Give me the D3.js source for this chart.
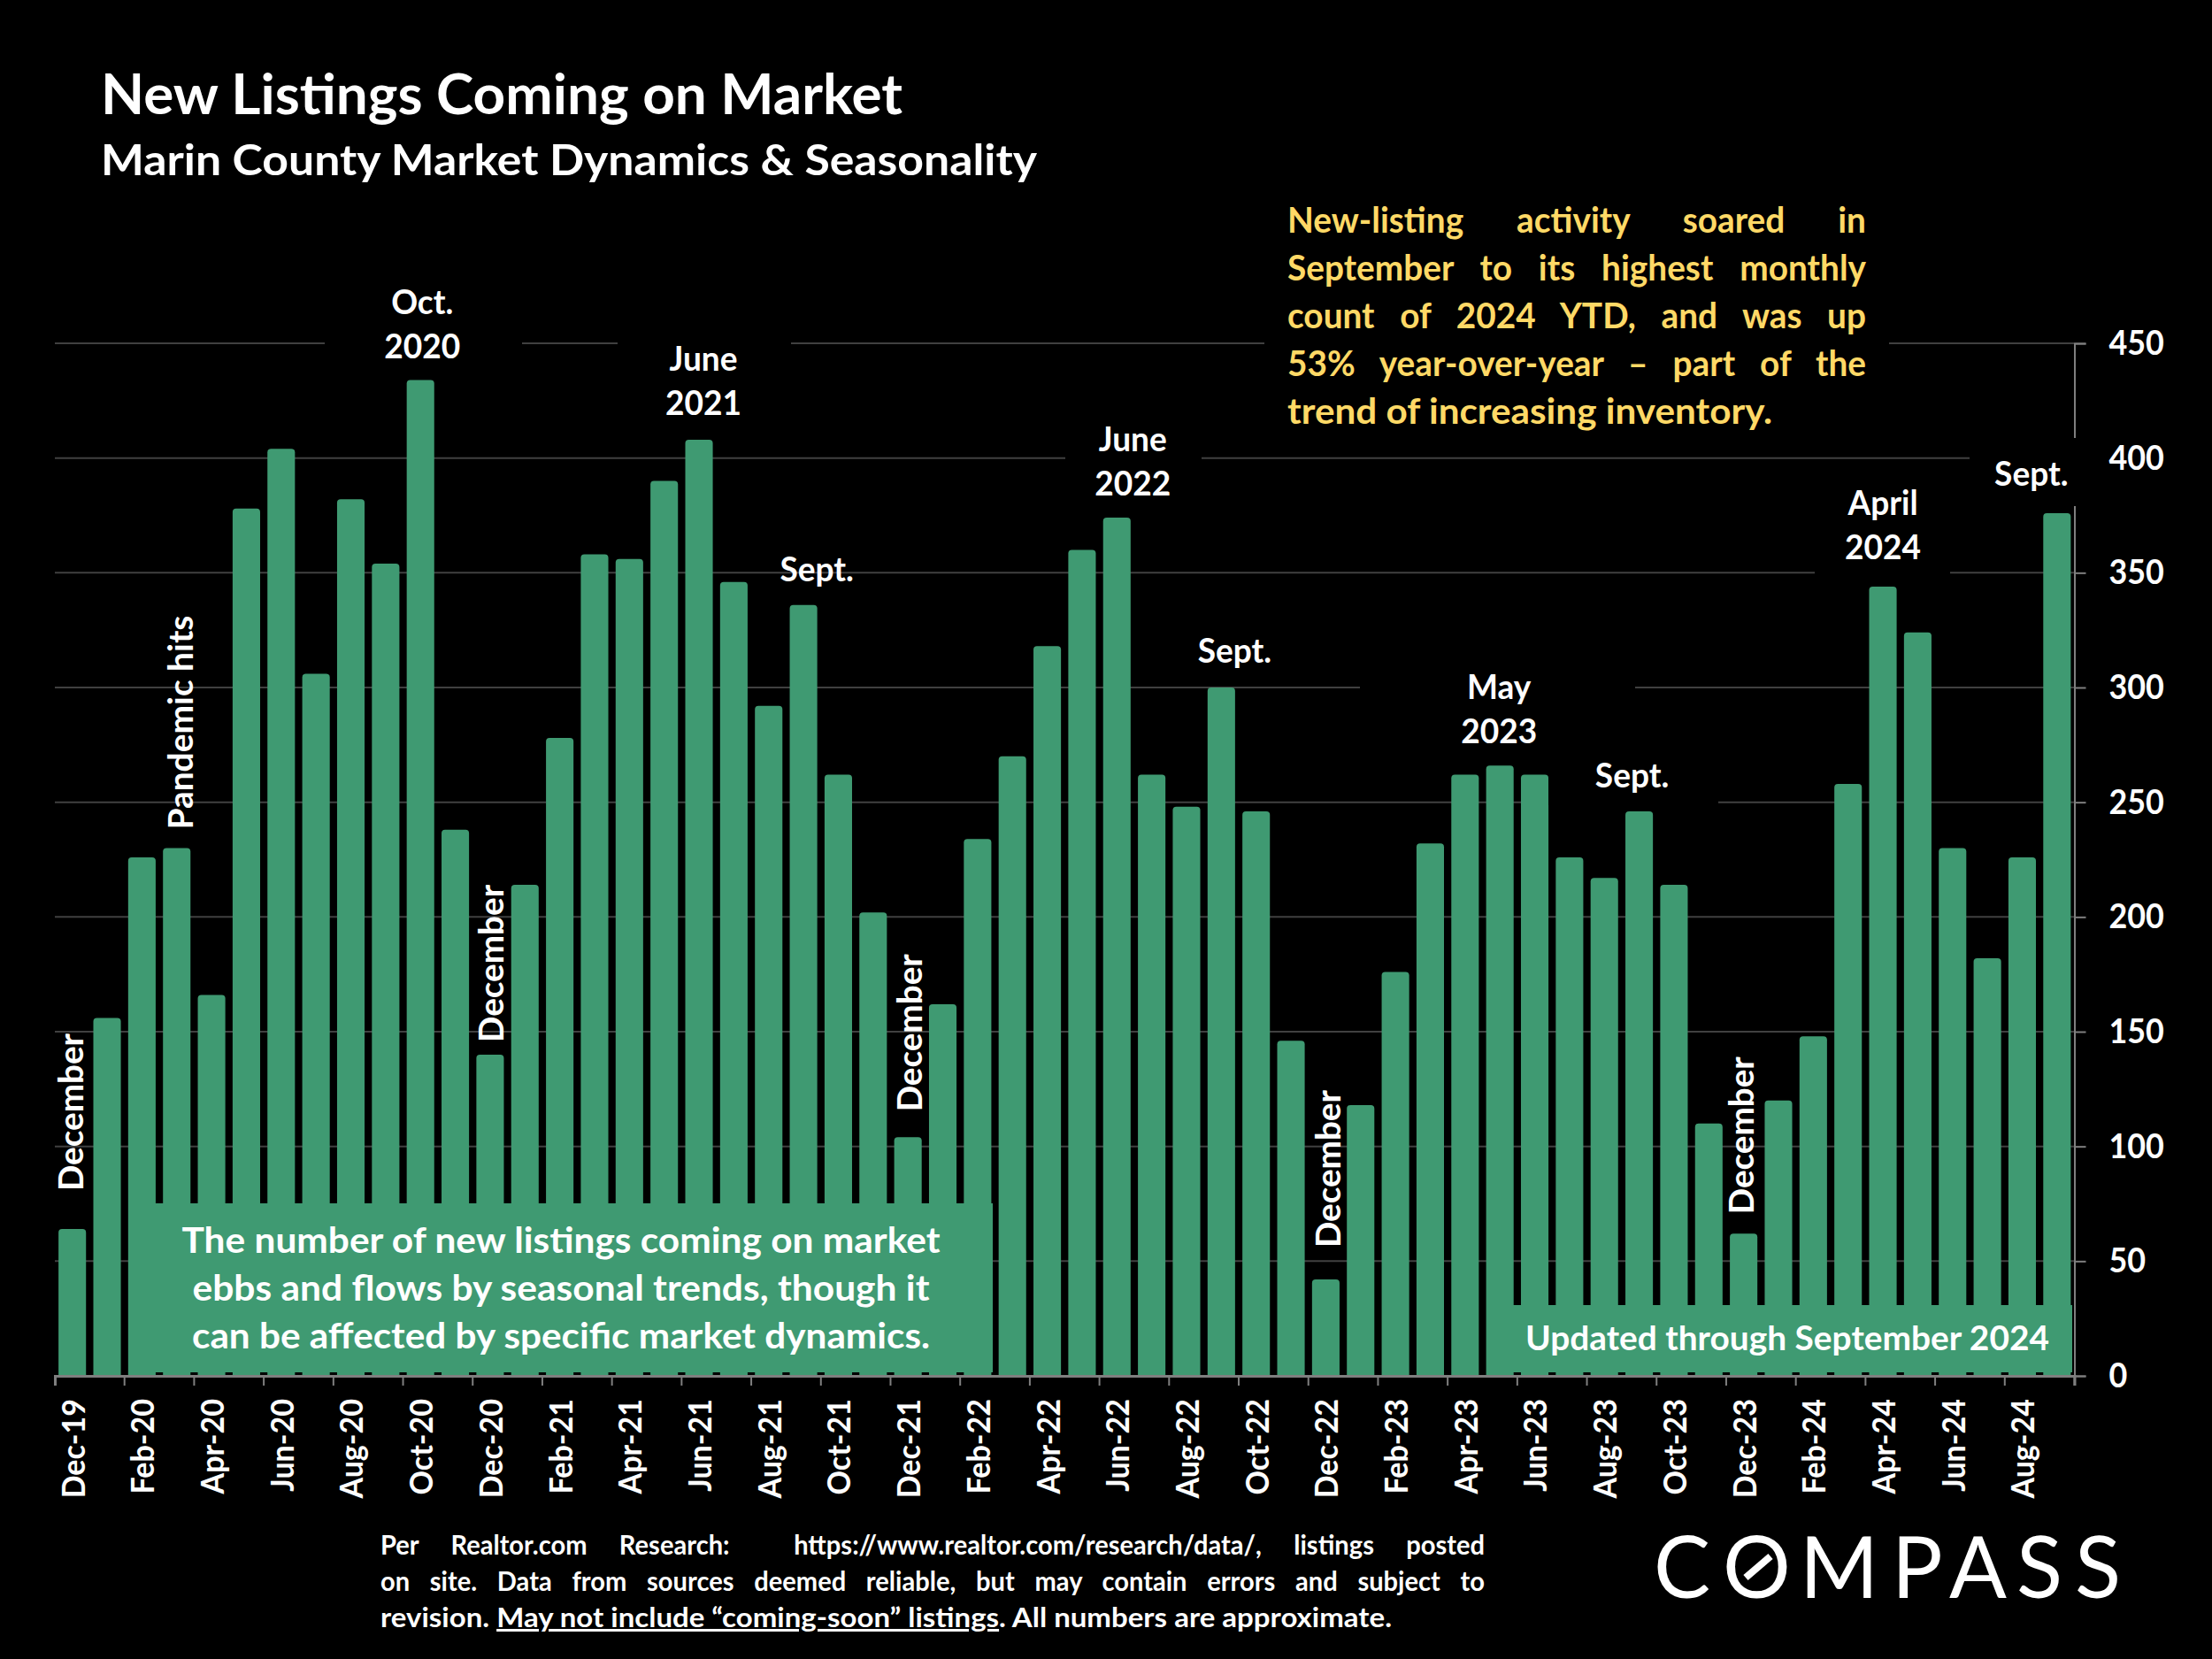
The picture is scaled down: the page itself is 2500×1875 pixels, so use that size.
<!DOCTYPE html>
<html>
<head>
<meta charset="utf-8">
<script src="https://cdn.jsdelivr.net/npm/d3@7"></script>
<style>
  html, body { margin: 0; background: #000; }
  svg { display: block; }
  text { font-family: Lato, sans-serif; font-weight: 700; fill: #fff; }
</style>
</head>
<body>
<div id="chart"></div>
<script>
const months = [
  "Dec-19",
  "Jan-20", "Feb-20", "Mar-20", "Apr-20", "May-20", "Jun-20", "Jul-20", "Aug-20", "Sep-20", "Oct-20", "Nov-20", "Dec-20",
  "Jan-21", "Feb-21", "Mar-21", "Apr-21", "May-21", "Jun-21", "Jul-21", "Aug-21", "Sep-21", "Oct-21", "Nov-21", "Dec-21",
  "Jan-22", "Feb-22", "Mar-22", "Apr-22", "May-22", "Jun-22", "Jul-22", "Aug-22", "Sep-22", "Oct-22", "Nov-22", "Dec-22",
  "Jan-23", "Feb-23", "Mar-23", "Apr-23", "May-23", "Jun-23", "Jul-23", "Aug-23", "Sep-23", "Oct-23", "Nov-23", "Dec-23",
  "Jan-24", "Feb-24", "Mar-24", "Apr-24", "May-24", "Jun-24", "Jul-24", "Aug-24", "Sep-24"
];
const listings = [
  64,
  156, 226, 230, 166, 378, 404, 306, 382, 354, 434, 238, 140,
  214, 278, 358, 356, 390, 408, 346, 292, 336, 262, 202, 104,
  162, 234, 270, 318, 360, 374, 262, 248, 300, 246, 146, 42,
  118, 176, 232, 262, 266, 262, 226, 217, 246, 214, 110, 62,
  120, 148, 258, 344, 324, 230, 182, 226, 376
];
const yTicks = [0, 50, 100, 150, 200, 250, 300, 350, 400, 450];

const calloutMonths = ["Oct-20", "Jun-21", "Sep-21", "Jun-22", "Sep-22", "May-23", "Sep-23", "Apr-24", "Sep-24"];
const calloutLines = [["Oct.", "2020"], ["June", "2021"], ["Sept."], ["June", "2022"], ["Sept."], ["May", "2023"], ["Sept."], ["April", "2024"], ["Sept."]];
const sideMonths = ["Dec-19", "Mar-20", "Dec-20", "Dec-21", "Dec-22", "Dec-23"];
const sideLabels = ["December", "Pandemic hits", "December", "December", "December", "December"];

const titleText = "New Listings Coming on Market";
const subtitleText = "Marin County Market Dynamics & Seasonality";
const noteLines = [
  "New-listing activity soared in",
  "September to its highest monthly",
  "count of 2024 YTD, and was up",
  "53% year-over-year \u2013 part of the",
  "trend of increasing inventory."
];
const boxLines = [
  "The number of new listings coming on market",
  "ebbs and flows by seasonal trends, though it",
  "can be affected by specific market dynamics."
];
const updatedText = "Updated through September 2024";
const sourceLines = [
  "Per Realtor.com Research:  https://www.realtor.com/research/data/, listings posted",
  "on site. Data from sources deemed reliable, but may contain errors and subject to"
];
const sourceLast = ["revision. ", "May not include \u201ccoming-soon\u201d listings", ". All numbers are approximate."];

const W = 2500, H = 1875;
const plot = { left: 62, right: 2344.5, top: 388, bottom: 1555 };
const barGreen = "#3f9a72", gridCol = "#404040", axisCol = "#7f7f7f";

const svg = d3.select("#chart").append("svg")
  .attr("width", W).attr("height", H)
  .attr("viewBox", `0 0 ${W} ${H}`);

const x = d3.scaleBand().domain(months).range([plot.left, plot.right]).paddingInner(0.21).paddingOuter(0.105);
const y = d3.scaleLinear().domain([0, 450]).range([plot.bottom, plot.top]);
const step = x.step();

// narrows the glyphs of already drawn text, Lato runs wider than the original face
function squeeze(sel, k) {
  sel.each(function () {
    const natural = this.getComputedTextLength();
    d3.select(this).attr("textLength", natural * k).attr("lengthAdjust", "spacingAndGlyphs");
  });
}

// gridlines
svg.append("g").selectAll("line").data(yTicks.slice(1)).enter().append("line")
  .attr("x1", plot.left).attr("x2", plot.right)
  .attr("y1", (d) => y(d)).attr("y2", (d) => y(d))
  .attr("stroke", gridCol).attr("stroke-width", 2);

// right axis
const yAxis = svg.append("g")
  .attr("transform", `translate(${plot.right},0)`)
  .call(d3.axisRight(y).tickValues(yTicks).tickSize(13).tickPadding(26));
yAxis.select(".domain").attr("stroke", axisCol).attr("stroke-width", 2);
yAxis.selectAll(".tick line").attr("stroke", axisCol).attr("stroke-width", 2);
yAxis.selectAll(".tick text").style("font-size", "39px").style("font-family", "Lato").style("font-weight", 700).attr("fill", "#fff");
squeeze(yAxis.selectAll(".tick text"), 0.92);

// bars with slightly rounded tops
const r = 4;
svg.append("g").selectAll("path").data(listings).enter().append("path")
  .attr("fill", barGreen)
  .attr("d", (d, i) => {
    const bx = x(months[i]), bw = x.bandwidth(), top = y(d);
    return `M${bx},${plot.bottom}V${top + r}Q${bx},${top} ${bx + r},${top}H${bx + bw - r}Q${bx + bw},${top} ${bx + bw},${top + r}V${plot.bottom}Z`;
  });

// bottom axis, ticks every two months at the band edge
const xAxis = svg.append("g")
  .attr("transform", `translate(0,${plot.bottom})`)
  .call(d3.axisBottom(x).tickValues(months.filter((d, i) => i % 2 === 0)).tickSize(11).tickPadding(10));
xAxis.select(".domain").attr("stroke", axisCol).attr("stroke-width", 3);
xAxis.selectAll(".tick line")
  .attr("x1", -step / 2).attr("x2", -step / 2)
  .attr("stroke", axisCol).attr("stroke-width", 2);
xAxis.append("line")
  .attr("x1", plot.right).attr("x2", plot.right).attr("y2", 11)
  .attr("stroke", axisCol).attr("stroke-width", 2);
xAxis.selectAll(".tick text")
  .attr("transform", "rotate(-90)")
  .attr("x", -26).attr("y", 1).attr("dy", "0.35em")
  .style("text-anchor", "end")
  .style("font-size", "37px").style("font-family", "Lato").style("font-weight", 700)
  .attr("fill", "#fff");
squeeze(xAxis.selectAll(".tick text"), 0.92);

// black boxes behind annotations, they cut the gridlines
const calloutBox = [[367, 590, 325, 422], [698, 894, 380, 490], [1204, 1358, 470, 578], [1537, 1848, 750, 860], [1750, 1942, 850, 910], [2051, 2204, 555, 656], [2226, 2362, 495, 572]];
svg.append("g").selectAll("rect").data(calloutBox).enter().append("rect")
  .attr("x", (d) => d[0]).attr("width", (d) => d[1] - d[0])
  .attr("y", (d) => d[2]).attr("height", (d) => d[3] - d[2])
  .attr("fill", "#000");

// note box top right
svg.append("rect").attr("x", 1429).attr("y", 232).attr("width", 706).attr("height", 270).attr("fill", "#000");

// callouts over the peaks
const calloutDx = [2, 5, 15, 18, 15, -1, -8, 0, -29];
const calloutGap = [24, 28, 27, 25, 28, 25, 27, 31, 31];
calloutMonths.forEach((m, i) => {
  const cx = x(m) + x.bandwidth() / 2 + calloutDx[i];
  const base = y(listings[months.indexOf(m)]) - calloutGap[i];
  const lines = calloutLines[i];
  lines.forEach((line, j) => {
    const t = svg.append("text")
      .attr("x", cx).attr("y", base - (lines.length - 1 - j) * 50)
      .attr("text-anchor", "middle")
      .attr("font-size", 39)
      .text(line);
    squeeze(t, 0.95);
  });
});

// rotated labels above the low bars, gridlines run behind them
const sideDx = [12, 18, 15, 16, 17, 11];
const sideGap = [43, 21, 14, 29, 36, 22];
sideMonths.forEach((m, i) => {
  const cx = x(m) + x.bandwidth() / 2 + sideDx[i];
  const base = y(listings[months.indexOf(m)]) - sideGap[i];
  svg.append("text")
    .attr("transform", `translate(${cx},${base}) rotate(-90)`)
    .attr("font-size", 39)
    .attr("textLength", i === 1 ? 242 : 178)
    .attr("lengthAdjust", "spacingAndGlyphs")
    .text(sideLabels[i]);
});

// green text boxes
svg.append("rect").attr("x", 145).attr("y", 1360).attr("width", 977).attr("height", 191).attr("fill", barGreen);
svg.append("rect").attr("x", 1680.5).attr("y", 1475).attr("width", 661.5).attr("height", 76).attr("fill", barGreen);

function fitted(tx, ty, str, size, width, anchor) {
  return svg.append("text")
    .attr("x", tx).attr("y", ty)
    .attr("font-size", size)
    .attr("text-anchor", anchor || "start")
    .attr("textLength", width)
    .attr("lengthAdjust", "spacingAndGlyphs")
    .text(str);
}

// stretch a line over a fixed width through its word gaps
function justified(tx, ty, str, size, width, scale, fill) {
  const t = svg.append("text")
    .attr("transform", `translate(${tx},${ty}) scale(${scale},1)`)
    .attr("font-size", size)
    .style("fill", fill)
    .style("white-space", "pre")
    .text(str);
  const gaps = str.split(" ").length - 1;
  const natural = t.node().getComputedTextLength();
  t.style("word-spacing", `${(width / scale - natural) / gaps}px`);
  return t;
}

fitted(114, 129, titleText, 63, 906);
fitted(114, 198, subtitleText, 47, 1058);

const noteBase = [263, 317, 371, 425, 479];
noteLines.forEach((line, i) => {
  if (i < 4) {
    justified(1455, noteBase[i], line, 40, 654, 0.97, "#ffd966");
  } else {
    fitted(1455, noteBase[i], line, 40, 548).style("fill", "#ffd966");
  }
});

const boxBase = [1415.5, 1469.5, 1523.5];
const boxWidth = [857, 833, 834];
boxLines.forEach((line, i) => fitted(634, boxBase[i], line, 41, boxWidth[i], "middle"));
fitted(1724, 1525.5, updatedText, 38, 592);

// source note
justified(430, 1756.5, sourceLines[0], 30, 1248, 0.97, "#fff");
justified(430, 1797.5, sourceLines[1], 30, 1248, 0.97, "#fff");
const last = svg.append("text")
  .attr("x", 430).attr("y", 1839)
  .attr("font-size", 30)
  .attr("textLength", 1143)
  .attr("lengthAdjust", "spacingAndGlyphs");
sourceLast.forEach((s, i) => {
  last.append("tspan").text(s).style("text-decoration", i === 1 ? "underline" : "none");
});

// logo, one x per letter
svg.append("text")
  .attr("x", "1869 1947 2034 2138 2203 2279 2345")
  .attr("y", 1806)
  .attr("font-size", 96)
  .style("font-weight", 400)
  .text("COMPASS");
svg.append("line")
  .attr("x1", 1973).attr("y1", 1783).attr("x2", 2001).attr("y2", 1759)
  .attr("stroke", "#fff").attr("stroke-width", 8);
</script>
</body>
</html>
